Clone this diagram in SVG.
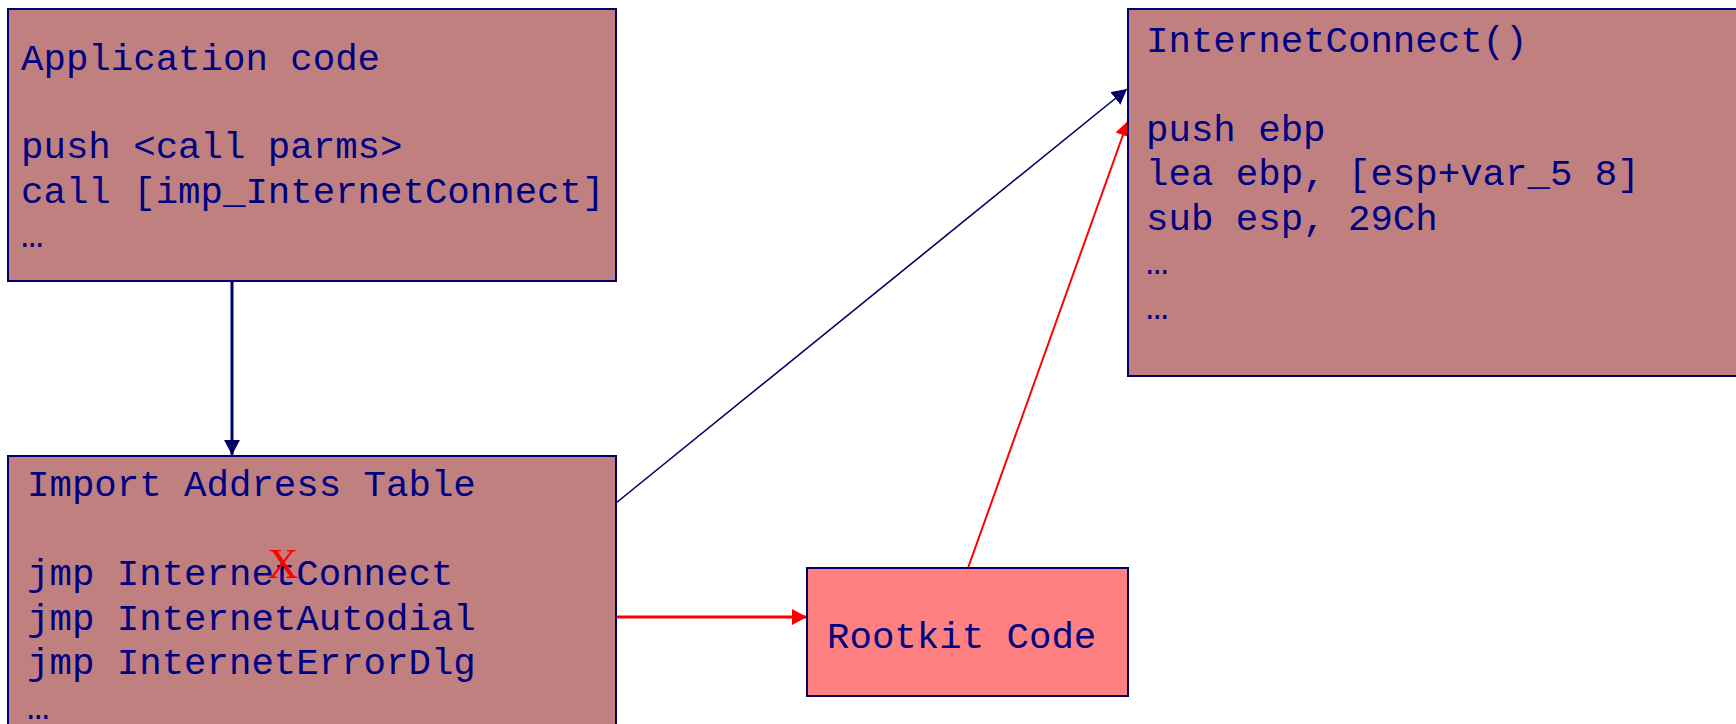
<svg xmlns="http://www.w3.org/2000/svg" width="1736" height="724" viewBox="0 0 1736 724">
<style>
.box{fill:#C08080;stroke:#000066;stroke-width:2}
.rk{fill:#FF8080;stroke:#000066;stroke-width:2}
.t{font-family:"Liberation Mono","DejaVu Sans Mono",monospace;font-size:37.4px;fill:#000080}
.x{font-family:"Liberation Serif","Times New Roman",serif;font-size:43px;fill:#FF0000}
.nv{stroke:#000066;fill:none}
.rd{stroke:#FF0000;fill:none}
</style>
<defs>
<marker id="ab" markerUnits="userSpaceOnUse" markerWidth="16" markerHeight="16" refX="15" refY="8" orient="auto"><path d="M0,0 L15,8 L0,16 z" fill="#000066"/></marker>
<marker id="ar" markerUnits="userSpaceOnUse" markerWidth="16" markerHeight="16" refX="15" refY="8" orient="auto"><path d="M0,0 L15,8 L0,16 z" fill="#FF0000"/></marker>
</defs>
<g id="connectors">
<line class="nv" x1="232" y1="281" x2="232" y2="455" stroke-width="3" marker-end="url(#ab)"/>
<line class="nv" x1="616" y1="503" x2="1127" y2="89" stroke-width="1.6" marker-end="url(#ab)"/>
<line class="rd" x1="968" y1="568" x2="1128" y2="121" stroke-width="2" marker-end="url(#ar)"/>
<line class="rd" x1="616" y1="617" x2="807" y2="617" stroke-width="3" marker-end="url(#ar)"/>
</g>
<g id="app">
<rect class="box" x="8" y="9" width="608" height="272"/>
<text class="t" x="21" y="70">Application code</text>
<text class="t" x="21" y="158">push &lt;call parms&gt;</text>
<text class="t" x="21" y="203">call [imp_InternetConnect]</text>
<text class="t" x="21" y="247">…</text>
</g>
<g id="iat">
<rect class="box" x="8" y="456" width="608" height="300"/>
<text class="t" x="27" y="496">Import Address Table</text>
<text class="t" x="27" y="585">jmp InternetConnect</text>
<text class="t" x="27" y="630">jmp InternetAutodial</text>
<text class="t" x="27" y="674">jmp InternetErrorDlg</text>
<text class="t" x="27" y="719">…</text>
<text class="x" x="283" y="578" text-anchor="middle">X</text>
</g>
<g id="internetconnect">
<rect class="box" x="1128" y="9" width="620" height="367"/>
<text class="t" x="1146" y="52">InternetConnect()</text>
<text class="t" x="1146" y="141">push ebp</text>
<text class="t" x="1146" y="185">lea ebp, [esp+var_5 8]</text>
<text class="t" x="1146" y="230">sub esp, 29Ch</text>
<text class="t" x="1146" y="274">…</text>
<text class="t" x="1146" y="319">…</text>
</g>
<g id="rootkit">
<rect class="rk" x="807" y="568" width="321" height="128"/>
<text class="t" x="827" y="648">Rootkit Code</text>
</g>
</svg>
